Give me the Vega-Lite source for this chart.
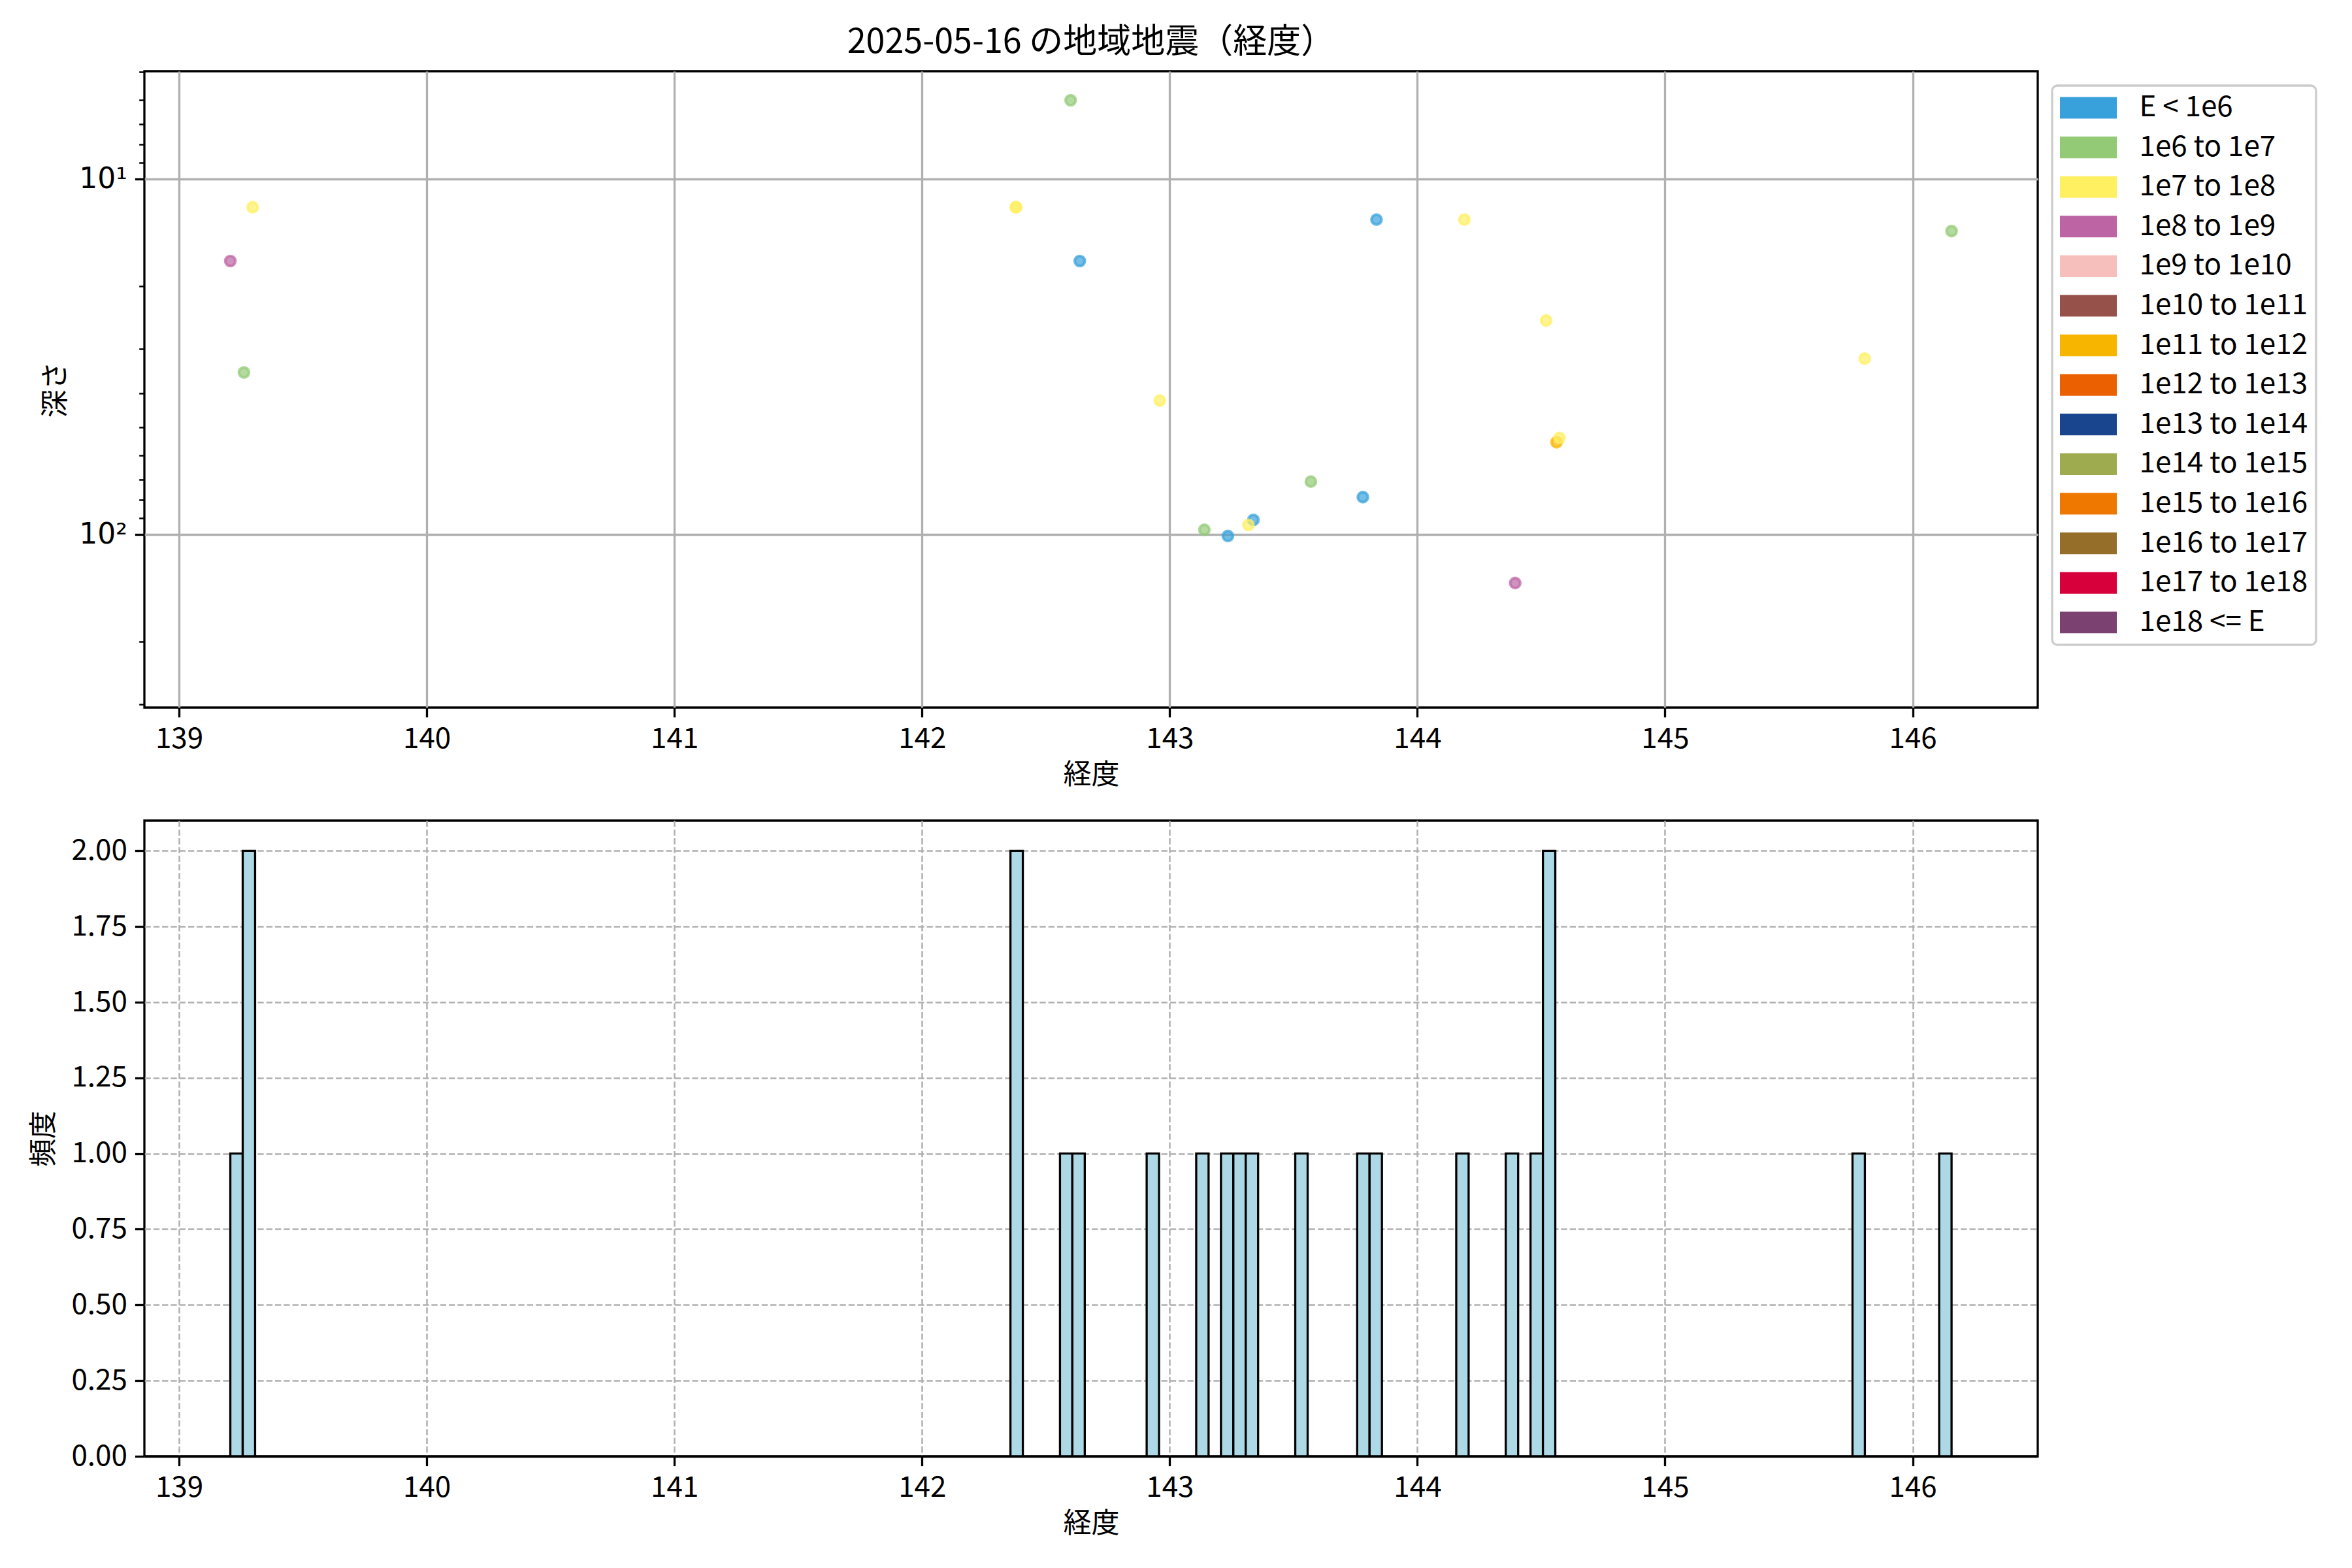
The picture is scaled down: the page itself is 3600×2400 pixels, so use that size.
{
  "$schema": "https://vega.github.io/schema/vega-lite/v6.json",
  "padding": {"left": 45, "top": 37, "right": 10, "bottom": 10},
  "background": "white",
  "datasets": {
    "quakes": [
      {"lon": 139.207, "depth": 17, "cls": "1e8 to 1e9"},
      {"lon": 139.262, "depth": 35, "cls": "1e6 to 1e7"},
      {"lon": 139.297, "depth": 12, "cls": "1e7 to 1e8"},
      {"lon": 142.380, "depth": 12, "cls": "1e7 to 1e8"},
      {"lon": 142.378, "depth": 12, "cls": "1e7 to 1e8"},
      {"lon": 142.600, "depth": 6, "cls": "1e6 to 1e7"},
      {"lon": 142.637, "depth": 17, "cls": "E < 1e6"},
      {"lon": 142.960, "depth": 42, "cls": "1e7 to 1e8"},
      {"lon": 143.140, "depth": 97, "cls": "1e6 to 1e7"},
      {"lon": 143.235, "depth": 101, "cls": "E < 1e6"},
      {"lon": 143.338, "depth": 91, "cls": "E < 1e6"},
      {"lon": 143.318, "depth": 94, "cls": "1e7 to 1e8"},
      {"lon": 143.570, "depth": 71, "cls": "1e6 to 1e7"},
      {"lon": 143.780, "depth": 78.5, "cls": "E < 1e6"},
      {"lon": 143.835, "depth": 13, "cls": "E < 1e6"},
      {"lon": 144.190, "depth": 13, "cls": "1e7 to 1e8"},
      {"lon": 144.395, "depth": 137, "cls": "1e8 to 1e9"},
      {"lon": 144.520, "depth": 25, "cls": "1e7 to 1e8"},
      {"lon": 144.562, "depth": 55, "cls": "1e11 to 1e12"},
      {"lon": 144.574, "depth": 53.5, "cls": "1e7 to 1e8"},
      {"lon": 145.806, "depth": 32, "cls": "1e7 to 1e8"},
      {"lon": 146.157, "depth": 14, "cls": "1e6 to 1e7"}
    ],
    "hist": [
      {"x0": 139.207, "x1": 139.257, "count": 1},
      {"x0": 139.257, "x1": 139.307, "count": 2},
      {"x0": 142.357, "x1": 142.407, "count": 2},
      {"x0": 142.557, "x1": 142.607, "count": 1},
      {"x0": 142.607, "x1": 142.657, "count": 1},
      {"x0": 142.907, "x1": 142.957, "count": 1},
      {"x0": 143.107, "x1": 143.157, "count": 1},
      {"x0": 143.207, "x1": 143.257, "count": 1},
      {"x0": 143.257, "x1": 143.307, "count": 1},
      {"x0": 143.307, "x1": 143.357, "count": 1},
      {"x0": 143.507, "x1": 143.557, "count": 1},
      {"x0": 143.757, "x1": 143.807, "count": 1},
      {"x0": 143.807, "x1": 143.857, "count": 1},
      {"x0": 144.157, "x1": 144.207, "count": 1},
      {"x0": 144.357, "x1": 144.407, "count": 1},
      {"x0": 144.457, "x1": 144.507, "count": 1},
      {"x0": 144.507, "x1": 144.557, "count": 2},
      {"x0": 145.757, "x1": 145.807, "count": 1},
      {"x0": 146.107, "x1": 146.157, "count": 1}
    ]
  },
  "config": {
    "font": "Noto Sans CJK JP",
    "view": {"stroke": "black", "strokeWidth": 3.3},
    "axis": {
      "labelFontSize": 44,
      "titleFontSize": 43,
      "titleFontWeight": "normal",
      "labelColor": "black",
      "titleColor": "black",
      "tickColor": "black",
      "tickSize": 14.6,
      "tickWidth": 3.3,
      "domain": false,
      "labelPadding": 12,
      "zindex": 1
    },
    "title": {"fontSize": 52, "fontWeight": "normal", "color": "black"},
    "legend": {
      "labelFontSize": 44,
      "labelColor": "black",
      "labelLimit": 0,
      "symbolType": "M-2,-0.76H2V0.76H-2Z",
      "symbolSize": 1892,
      "symbolOffset": 21.5,
      "symbolOpacity": 1,
      "symbolStrokeWidth": 0,
      "labelOffset": 56,
      "rowPadding": 16.6,
      "strokeColor": "#cccccc",
      "strokeWidth": 3.3,
      "cornerRadius": 8,
      "fillColor": "white",
      "padding": 12
    }
  },
  "spacing": 43,
  "vconcat": [
    {
      "width": 2898,
      "height": 974,
      "title": {"text": "2025-05-16 の地域地震（経度）", "offset": 17},
      "data": {"name": "quakes"},
      "layer": [
        {
          "mark": {"type": "point", "opacity": 0},
          "encoding": {
            "x": {"field": "lon", "type": "quantitative", "title": "経度",
              "scale": {"domain": [138.86, 146.505], "nice": false, "zero": false},
              "axis": {"values": [139, 140, 141, 142, 143, 144, 145, 146], "grid": true, "gridColor": "#b0b0b0", "gridWidth": 3.3, "titlePadding": 12}},
            "y": {"field": "depth", "type": "quantitative", "title": null,
              "scale": {"type": "log", "domain": [4.97, 307], "reverse": true, "nice": false},
              "axis": {"orient": "left", "values": [5, 6, 7, 8, 9, 20, 30, 40, 50, 60, 70, 80, 90, 200, 300], "labels": false, "grid": false, "tickSize": 8.3, "tickWidth": 2.5}}
          }
        },
        {
          "mark": {"type": "circle", "fillOpacity": 0.7, "strokeOpacity": 0.7, "strokeWidth": 4.2, "opacity": 1},
          "encoding": {
            "x": {"field": "lon", "type": "quantitative", "title": "経度",
              "scale": {"domain": [138.86, 146.505], "nice": false, "zero": false},
              "axis": {"values": [139, 140, 141, 142, 143, 144, 145, 146], "grid": true, "gridColor": "#b0b0b0", "gridWidth": 3.3, "titlePadding": 12}},
            "y": {"field": "depth", "type": "quantitative", "title": "深さ",
              "scale": {"type": "log", "domain": [4.97, 307], "reverse": true, "nice": false},
              "axis": {"orient": "left", "values": [10, 100], "labelFont": "DejaVu Sans", "labelExpr": "datum.value == 10 ? '10¹' : '10²'", "grid": true, "gridColor": "#b0b0b0", "gridWidth": 3.3, "titlePadding": 13}},
            "color": {"field": "cls", "type": "nominal",
              "scale": {"domain": ["E < 1e6", "1e6 to 1e7", "1e7 to 1e8", "1e8 to 1e9", "1e9 to 1e10", "1e10 to 1e11", "1e11 to 1e12", "1e12 to 1e13", "1e13 to 1e14", "1e14 to 1e15", "1e15 to 1e16", "1e16 to 1e17", "1e17 to 1e18", "1e18 <= E"],
                "range": ["#38A1DB", "#93CA76", "#FFF062", "#BC64A4", "#F6BFBC", "#95514A", "#F8B500", "#EB6101", "#19448E", "#9EAB4F", "#EE7800", "#956F29", "#D7003A", "#7A4171"]},
              "legend": {"orient": "none", "legendX": 2920, "legendY": 22, "title": null}},
            "stroke": {"field": "cls", "type": "nominal",
              "scale": {"domain": ["E < 1e6", "1e6 to 1e7", "1e7 to 1e8", "1e8 to 1e9", "1e9 to 1e10", "1e10 to 1e11", "1e11 to 1e12", "1e12 to 1e13", "1e13 to 1e14", "1e14 to 1e15", "1e15 to 1e16", "1e16 to 1e17", "1e17 to 1e18", "1e18 <= E"],
                "range": ["#38A1DB", "#93CA76", "#FFF062", "#BC64A4", "#F6BFBC", "#95514A", "#F8B500", "#EB6101", "#19448E", "#9EAB4F", "#EE7800", "#956F29", "#D7003A", "#7A4171"]},
              "legend": null},
            "size": {"field": "cls", "type": "ordinal",
              "scale": {"domain": ["E < 1e6", "1e6 to 1e7", "1e7 to 1e8", "1e8 to 1e9", "1e11 to 1e12"], "range": [240, 240, 240, 310, 720]},
              "legend": null}
          }
        }
      ],
      "resolve": {"axis": {"y": "independent"}}
    },
    {
      "width": 2898,
      "height": 973,
      "data": {"name": "hist"},
      "mark": {"type": "bar", "fill": "#ADD8E6", "stroke": "black", "strokeWidth": 3.3},
      "encoding": {
        "x": {"field": "x0", "type": "quantitative", "title": "経度",
          "scale": {"domain": [138.86, 146.505], "nice": false, "zero": false},
          "axis": {"values": [139, 140, 141, 142, 143, 144, 145, 146], "grid": true, "gridColor": "#b0b0b0", "gridWidth": 2.5, "gridDash": [9.3, 4], "titlePadding": 12, "domain": true, "domainColor": "black", "domainWidth": 3.3}},
        "x2": {"field": "x1"},
        "y": {"field": "count", "type": "quantitative", "title": "頻度",
          "scale": {"domain": [0, 2.1], "nice": false},
          "axis": {"values": [0, 0.25, 0.5, 0.75, 1, 1.25, 1.5, 1.75, 2], "format": ".2f", "grid": true, "gridColor": "#b0b0b0", "gridWidth": 2.5, "gridDash": [9.3, 4], "titlePadding": 19}},
        "y2": {"datum": 0}
      }
    }
  ]
}
